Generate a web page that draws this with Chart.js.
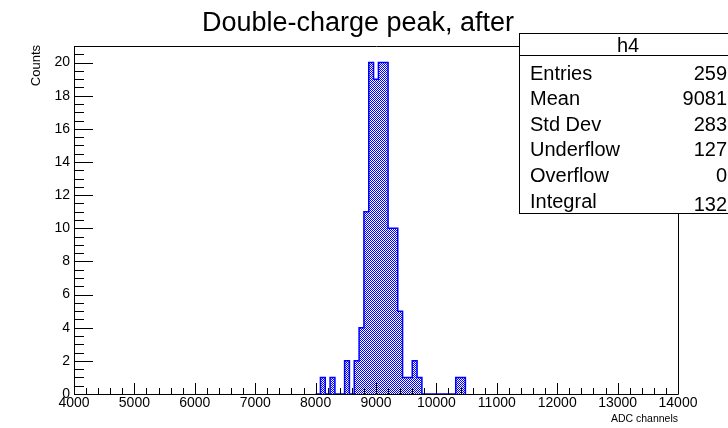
<!DOCTYPE html>
<html>
<head>
<meta charset="utf-8">
<script src="https://cdn.jsdelivr.net/npm/chart.js@4.4.1/dist/chart.umd.min.js"></script>
<style>
html,body{margin:0;padding:0;background:#fff;}
#c{display:block;}
</style>
</head>
<body>
<canvas id="c" width="728" height="428"></canvas>
<script>
// ---- data ----
const binLow = [8000, 8080, 8160, 8240, 8320, 8400, 8480, 8560, 8640, 8720, 8800, 8880, 8960, 9040, 9120, 9200, 9280, 9360, 9440, 9520, 9600, 9680, 9760, 9840, 9920, 10000, 10080, 10160, 10240, 10320, 10400, 10480];
const counts = [0, 1, 0, 1, 0, 0, 2, 0, 2, 4, 11, 20, 19, 20, 20, 10, 10, 5, 1, 1, 2, 1, 0, 0, 0, 0, 0, 0, 0, 1, 1, 0];
const xTicks = [4000, 5000, 6000, 7000, 8000, 9000, 10000, 11000, 12000, 13000, 14000];
const yTicks = [0, 2, 4, 6, 8, 10, 12, 14, 16, 18, 20];
const statLabels = ['Entries', 'Mean', 'Std Dev', 'Underflow', 'Overflow', 'Integral'];
const statValues = ['259', '9081', '283', '127', '0', '132'];
const titleText = 'Double-charge peak, after';
const histName = 'h4';
const xTitle = 'ADC channels';
const yTitle = 'Counts';

const FONT = '"Liberation Sans", Arial, Helvetica, sans-serif';

// checker fill pattern (ROOT-like hatch)
const canvas = document.getElementById('c');
const ctx0 = canvas.getContext('2d');
const pc = document.createElement('canvas');
pc.width = 2; pc.height = 2;
const pg = pc.getContext('2d');
pg.fillStyle = '#ffffff'; pg.fillRect(0, 0, 2, 2);
pg.fillStyle = '#0000ff'; pg.fillRect(0, 0, 1, 1); pg.fillRect(1, 1, 1, 1);
const pattern = ctx0.createPattern(pc, 'repeat');

const rootDecor = {
  id: 'rootDecor',
  afterDatasetsDraw(chart) {
    const ctx = chart.ctx;
    const {left, right, top, bottom} = chart.chartArea;
    const xs = chart.scales.x, ys = chart.scales.y;
    ctx.save();
    ctx.strokeStyle = '#000';
    ctx.lineWidth = 1;
    ctx.beginPath();
    ctx.rect(Math.round(left) + 0.5, Math.round(top) + 0.5, Math.round(right - left), Math.round(bottom - top));
    ctx.stroke();
    ctx.beginPath();
    // y ticks
    for (let v = 0; v <= ys.max + 1e-9; v += 0.5) {
      const py = Math.round(ys.getPixelForValue(v)) + 0.5;
      const major = yTicks.includes(v);
      const len = major ? 19 : 10;
      ctx.moveTo(left, py); ctx.lineTo(left + len, py);
    }
    // x ticks
    for (let v = xs.min; v <= xs.max + 1e-9; v += 200) {
      const px = Math.round(xs.getPixelForValue(v)) + 0.5;
      const major = xTicks.includes(v);
      const len = major ? 11 : 6;
      ctx.moveTo(px, bottom); ctx.lineTo(px, bottom - len);
    }
    ctx.stroke();
    ctx.restore();
  },
  afterDraw(chart) {
    const ctx = chart.ctx;
    const {right} = chart.chartArea;
    ctx.save();
    ctx.fillStyle = '#000';
    // title
    ctx.font = '27px ' + FONT;
    ctx.textAlign = 'center';
    ctx.textBaseline = 'alphabetic';
    ctx.fillText(titleText, 358, 31);
    // axis titles
    ctx.font = '10.5px ' + FONT;
    ctx.textAlign = 'right';
    ctx.fillText(xTitle, right, 422);
    ctx.save();
    ctx.translate(40, 45);
    ctx.rotate(-Math.PI / 2);
    ctx.font = '13px ' + FONT;
    ctx.textAlign = 'right';
    ctx.fillText(yTitle, 0, 0);
    ctx.restore();
    // stats box
    const bx = 519.5, by = 33.5, bw = 220, bh = 180;
    ctx.fillStyle = '#fff';
    ctx.fillRect(bx, by, bw, bh);
    ctx.strokeStyle = '#000';
    ctx.lineWidth = 1;
    ctx.strokeRect(bx, by, bw, bh);
    ctx.beginPath();
    ctx.moveTo(bx, 55.5); ctx.lineTo(bx + bw, 55.5);
    ctx.stroke();
    ctx.fillStyle = '#000';
    ctx.font = '20px ' + FONT;
    ctx.textAlign = 'center';
    ctx.fillText(histName, 628, 52);
    for (let i = 0; i < statLabels.length; i++) {
      const yb = 79.5 + 25.6 * i;
      ctx.textAlign = 'left';
      ctx.fillText(statLabels[i], 530, yb);
      ctx.textAlign = 'right';
      ctx.fillText(statValues[i], 727, yb + (i === 5 ? 3 : 0));
    }
    ctx.restore();
  }
};

new Chart(canvas, {
  type: 'line',
  data: {
    datasets: [{
      data: binLow.map((x, i) => ({x: x, y: counts[i]})),
      stepped: 'before',
      fill: 'origin',
      backgroundColor: pattern,
      borderColor: '#0000ff',
      borderWidth: 1.5,
      pointRadius: 0,
      tension: 0
    }]
  },
  options: {
    responsive: false,
    animation: false,
    devicePixelRatio: 1,
    layout: {padding: {left: 0, right: 50, top: 46, bottom: 0}},
    plugins: {legend: {display: false}, tooltip: {enabled: false}, title: {display: false}},
    scales: {
      x: {
        type: 'linear',
        min: 4000, max: 14000,
        grid: {display: false, drawTicks: false},
        border: {display: false},
        afterBuildTicks: s => { s.ticks = xTicks.map(v => ({value: v})); },
        afterFit: s => { s.height = 34; },
        ticks: {
          autoSkip: false, maxRotation: 0, padding: 1, color: '#000',
          font: {family: FONT, size: 14},
          callback: v => String(v)
        }
      },
      y: {
        type: 'linear',
        min: 0, max: 21,
        grid: {display: false, drawTicks: false},
        border: {display: false},
        afterBuildTicks: s => { s.ticks = yTicks.map(v => ({value: v})); },
        afterFit: s => { s.width = 74; },
        ticks: {
          autoSkip: false, padding: 4, color: '#000',
          font: {family: FONT, size: 14},
          callback: v => String(v)
        }
      }
    }
  },
  plugins: [rootDecor]
});
</script>
</body>
</html>
